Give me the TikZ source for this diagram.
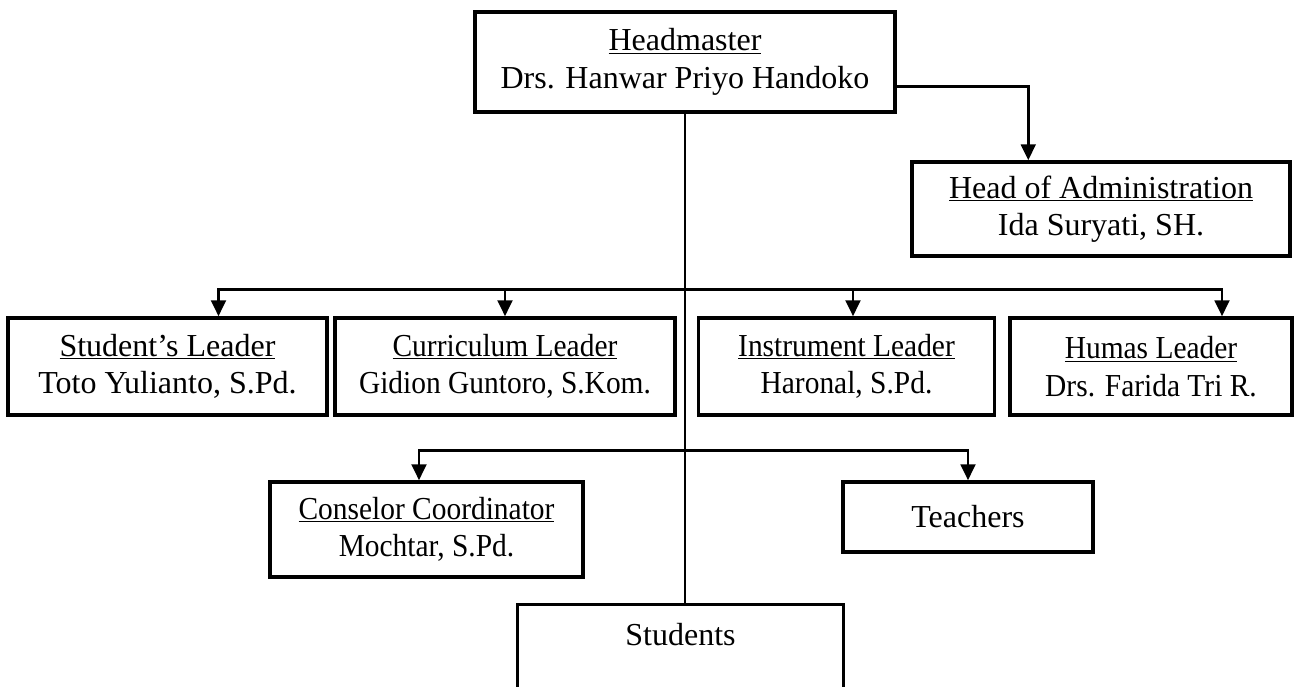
\documentclass[tikz,border=0pt]{standalone}
\usepackage{fontspec}
\setmainfont{Liberation Serif}
\usepackage{graphicx}
\usepackage{tikz}
\usetikzlibrary{arrows.meta, calc, positioning}
\newcommand{\cond}[1]{\scalebox{0.92}[1]{#1}}
\tikzset{%
  orgbox/.style={%
    draw=black,%
    rectangle,%
    line width=2.6pt,%
    inner sep=0pt,%
    align=center,%
    font={\fontsize{24}{28}\selectfont},%
  },
  link/.style={%
    color=black,%
    line width=2.2pt,%
    line join=miter,%
  },
  arrow/.style={-{Triangle[length=12pt, width=11pt]}},
}

\begin{document}
\begin{tikzpicture}[x=0.75pt, y=-0.75pt]
    \useasboundingbox (0,0) rectangle (1298,686);

    \node [orgbox, minimum width=315pt, minimum height=75pt] (Head) at (685,62)
      {\underline{Headmaster}\\Drs. Hanwar Priyo Handoko};
    \node [orgbox, minimum width=283.5pt, minimum height=70.5pt] (Admin) at (1101,209)
      {\underline{Head of Administration}\\Ida Suryati, SH.};

    \node [orgbox, minimum width=239pt, minimum height=72.75pt] (SLead) at (167.5,366.5)
      {\underline{Student's Leader}\\Toto Yulianto, S.Pd.};
    \node [orgbox, minimum width=255pt, minimum height=72.75pt] (CLead) at (505,366.5)
      {\cond{\underline{Curriculum Leader}}\\\cond{Gidion Guntoro, S.Kom.}};
    \node [orgbox, minimum width=222pt, minimum height=72.75pt] (ILead) at (846.5,366.5)
      {\cond{\underline{Instrument Leader}}\\\cond{Haronal, S.Pd.}};
    \node [orgbox, minimum width=211.5pt, minimum height=72.75pt] (HLead) at (1151,366.5)
      {\cond{\underline{Humas Leader}}\\\cond{Drs. Farida Tri R.}};

    \node [orgbox, minimum width=234.75pt, minimum height=71.25pt] (Consel) at (426.5,529.5)
      {\cond{\underline{Conselor Coordinator}}\\\cond{Mochtar, S.Pd.}};
    \node [orgbox, minimum width=187.5pt, minimum height=52.5pt] (Teach) at (968,517)
      {Teachers};
    \node [orgbox, minimum width=244.5pt, minimum height=72.75pt, anchor=north] (Stud) at (680.5,603)
      {Students\\\mbox{}};

    \coordinate (bus1) at ($(Head.south)+(0,176)$);
    \coordinate (bus2) at ($(Head.south)+(0,337)$);

    % headmaster to administration
    \draw [link, arrow]
      ($(Head.south east)+(0,-27)$)
      -|
      ($(Admin.north west)+(118,0)$);

    % main line down to the students
    \draw [link]
      (Head.south)
      --
      (Head.south |- Stud.north);

    % leaders
    \draw [link, arrow] (bus1) -| ($(SLead.north)+(51,0)$);
    \draw [link, arrow] (bus1) -| (CLead.north);
    \draw [link, arrow] (bus1) -| ($(ILead.north)+(6.5,0)$);
    \draw [link, arrow] (bus1) -| ($(HLead.north)+(71,0)$);

    % conselor and teachers
    \draw [link, arrow] (bus2) -| ($(Consel.north)+(-7.5,0)$);
    \draw [link, arrow] (bus2) -| (Teach.north);

\end{tikzpicture}
\end{document}
